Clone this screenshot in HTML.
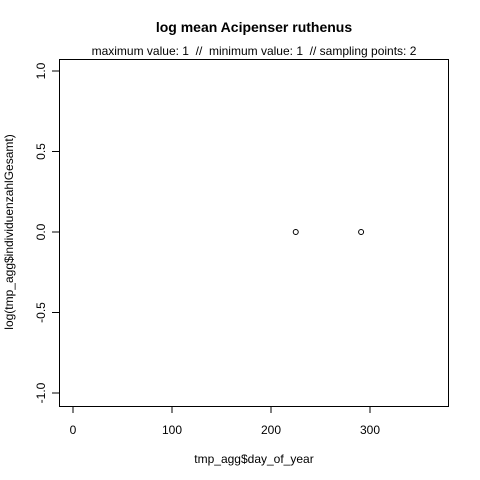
<!DOCTYPE html>
<html><head><meta charset="utf-8"><style>
body{margin:0;background:#fff;}
svg{display:block;font-family:"Liberation Sans",Arial,sans-serif;}
</style></head><body>
<svg id="chart" width="480" height="480">
<text x="254" y="32" text-anchor="middle" font-size="14" font-weight="bold">log mean Acipenser ruthenus</text>
<text x="254" y="55" text-anchor="middle" font-size="12" style="white-space:pre">maximum value: 1  //  minimum value: 1  // sampling points: 2</text>
<rect x="59.5" y="59.5" width="389" height="347" fill="none" stroke="#000" stroke-width="1"/>
<g id="xaxis"></g>
<g id="yaxis"></g>
<g id="points"></g>
<text x="254" y="463" text-anchor="middle" font-size="12">tmp_agg$day_of_year</text>
<text transform="translate(13,232) rotate(-90)" text-anchor="middle" font-size="12">log(tmp_agg$individuenzahlGesamt)</text>
</svg>
<script>
const xTicks=[0,100,200,300];
const yTicks=[-1.0,-0.5,0.0,0.5,1.0];
const days=[225,291];
const values=[0,0];
const ns="http://www.w3.org/2000/svg";
function X(v){return 73+v*0.99;}
function Y(v){return 232-v*161;}
function mk(tag,attrs,parent){const e=document.createElementNS(ns,tag);for(const k in attrs)e.setAttribute(k,attrs[k]);parent.appendChild(e);return e;}
const xa=document.getElementById('xaxis'),ya=document.getElementById('yaxis'),pg=document.getElementById('points');
xTicks.forEach(t=>{
  const l=mk('line',{x1:X(t),x2:X(t),y1:406,y2:413,stroke:'#000'},xa);
  
  
  const tx=mk('text',{x:X(t),y:434,'text-anchor':'middle','font-size':12},xa);
  tx.textContent=t;
  
  
});
yTicks.forEach(t=>{
  const l=mk('line',{x1:52,x2:59,y1:Y(t),y2:Y(t),stroke:'#000'},ya);
  
  
  const tx=mk('text',{transform:`translate(45,${Y(t)}) rotate(-90)`,'text-anchor':'middle','font-size':12},ya);
  tx.textContent=t.toFixed(1);
  
  
});
days.forEach((d,i)=>{
  const c=mk('circle',{cx:X(d),cy:Y(values[i]),r:2.5,fill:'none',stroke:'#000','stroke-width':1},pg);
  
  
});
</script>
</body></html>
